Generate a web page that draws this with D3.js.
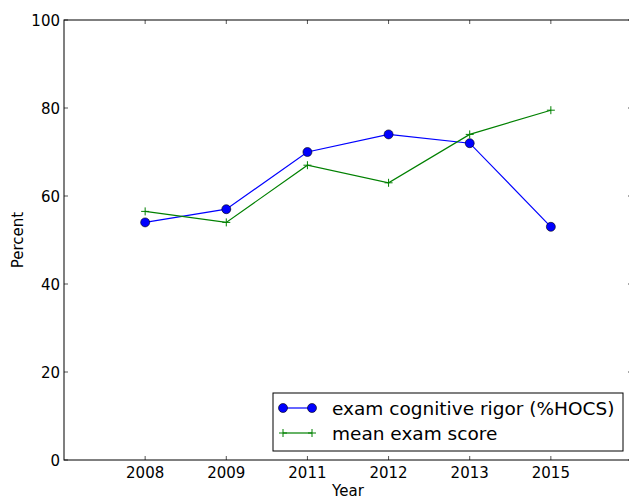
<!DOCTYPE html>
<html>
<head>
<meta charset="utf-8">
<script src="https://cdn.jsdelivr.net/npm/d3@7"></script>
<style>
  html, body { margin: 0; padding: 0; background: #fff; }
  svg { display: block; font-family: "DejaVu Sans", sans-serif; }
</style>
</head>
<body>
<svg id="chart" width="629" height="499"></svg>
<script>
// Survey years (shown as evenly spaced categories)
const years = ["2008", "2009", "2011", "2012", "2013", "2015"];
// Share of higher-order cognitive skill questions on the exam (%)
const rigorValues = [54, 57, 70, 74, 72, 53];
// Mean exam score (%)
const scoreValues = [56.5, 54, 67, 63, 74, 79.5];
const yTicks = [0, 20, 40, 60, 80, 100];

const seriesNames = ["exam cognitive rigor (%HOCS)", "mean exam score"];

const svg = d3.select("#chart");
const margin = { left: 64, top: 20, right: 632, bottom: 460 };
const fontSize = 15;

// Positions 1..6 inside a 0..7 domain
const x = d3.scaleLinear().domain([0, years.length + 1]).range([margin.left, margin.right]);
const y = d3.scaleLinear().domain([0, 100]).range([margin.bottom, margin.top]);

const g = svg.append("g");

// Ticks (inward on all four sides)
const tickLen = 4;
const tickColor = "#555";
years.forEach((yr, i) => {
  const px = x(i + 1);
  g.append("line").attr("x1", px).attr("x2", px)
    .attr("y1", margin.bottom).attr("y2", margin.bottom - tickLen)
    .attr("stroke", tickColor).attr("stroke-width", 1);
  g.append("line").attr("x1", px).attr("x2", px)
    .attr("y1", margin.top).attr("y2", margin.top + tickLen)
    .attr("stroke", tickColor).attr("stroke-width", 1);
  g.append("text").attr("x", px).attr("y", margin.bottom + 18)
    .attr("text-anchor", "middle").attr("font-size", fontSize).attr("fill", "#000")
    .text(yr);
});
yTicks.forEach(v => {
  const py = y(v);
  g.append("line").attr("x1", margin.left).attr("x2", margin.left + tickLen)
    .attr("y1", py).attr("y2", py).attr("stroke", tickColor).attr("stroke-width", 1);
  g.append("line").attr("x1", margin.right).attr("x2", margin.right - tickLen)
    .attr("y1", py).attr("y2", py).attr("stroke", tickColor).attr("stroke-width", 1);
  g.append("text").attr("x", margin.left - 4).attr("y", py + 5.5)
    .attr("text-anchor", "end").attr("font-size", fontSize).attr("fill", "#000")
    .text(v);
});

// Frame
g.append("rect")
  .attr("x", margin.left).attr("y", margin.top)
  .attr("width", margin.right - margin.left).attr("height", margin.bottom - margin.top)
  .attr("fill", "none").attr("stroke", "#000").attr("stroke-width", 1);

// Series lines
const line = d3.line().x((d, i) => x(i + 1)).y(d => y(d));
g.append("path").datum(rigorValues).attr("d", line)
  .attr("fill", "none").attr("stroke", "#0000ff").attr("stroke-width", 1.2);
g.append("path").datum(scoreValues).attr("d", line)
  .attr("fill", "none").attr("stroke", "#008000").attr("stroke-width", 1.2);

// Markers
g.selectAll(".dot").data(rigorValues).enter().append("circle")
  .attr("cx", (d, i) => x(i + 1)).attr("cy", d => y(d)).attr("r", 4.5)
  .attr("fill", "#0000ff").attr("stroke", "#000").attr("stroke-width", 0.6);
const plus = 4;
scoreValues.forEach((d, i) => {
  const px = x(i + 1), py = y(d);
  g.append("path")
    .attr("d", `M${px - plus},${py}H${px + plus}M${px},${py - plus}V${py + plus}`)
    .attr("stroke", "#008000").attr("stroke-width", 1);
});

// Axis titles
svg.append("text").attr("x", (margin.left + margin.right) / 2).attr("y", 496)
  .attr("text-anchor", "middle").attr("font-size", fontSize).text("Year");
svg.append("text").attr("transform", `translate(23,${(margin.top + margin.bottom) / 2}) rotate(-90)`)
  .attr("text-anchor", "middle").attr("font-size", fontSize).text("Percent");

// Legend
const lg = svg.append("g");
lg.append("rect").attr("x", 273).attr("y", 393).attr("width", 350).attr("height", 58)
  .attr("fill", "#fff").attr("stroke", "#000").attr("stroke-width", 1);
const rows = [408, 433];
lg.append("line").attr("x1", 283).attr("x2", 312).attr("y1", rows[0]).attr("y2", rows[0])
  .attr("stroke", "#0000ff").attr("stroke-width", 1.2);
[283, 312].forEach(cx => lg.append("circle").attr("cx", cx).attr("cy", rows[0]).attr("r", 4.5)
  .attr("fill", "#0000ff").attr("stroke", "#000").attr("stroke-width", 0.6));
lg.append("line").attr("x1", 283).attr("x2", 312).attr("y1", rows[1]).attr("y2", rows[1])
  .attr("stroke", "#008000").attr("stroke-width", 1.2);
[283, 312].forEach(cx => lg.append("path")
  .attr("d", `M${cx - plus},${rows[1]}H${cx + plus}M${cx},${rows[1] - plus}V${rows[1] + plus}`)
  .attr("stroke", "#008000").attr("stroke-width", 1));
seriesNames.forEach((name, i) => {
  lg.append("text").attr("x", 332).attr("y", rows[i] + 6.5)
    .attr("font-size", 18.5).attr("fill", "#000").text(name);
});
</script>
</body>
</html>
